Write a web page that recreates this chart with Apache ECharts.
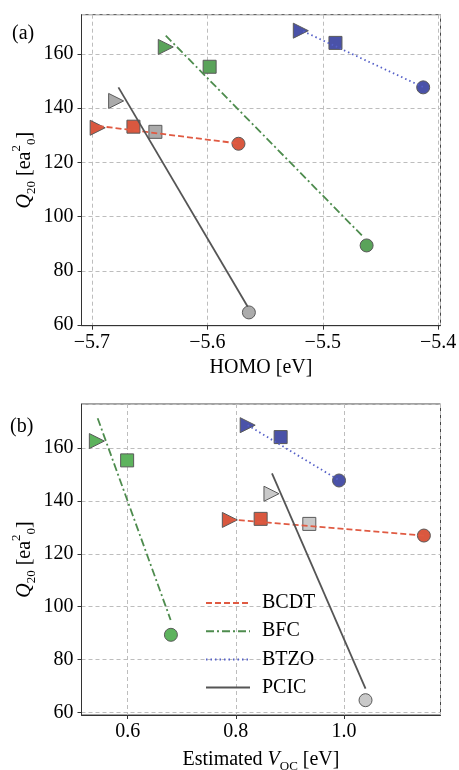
<!DOCTYPE html>
<html>
<head>
<meta charset="utf-8">
<script src="https://cdn.jsdelivr.net/npm/echarts@6/dist/echarts.min.js"></script>
<style>
  html, body { margin: 0; padding: 0; background: #fff; }
  #main { width: 459px; height: 770px; }
</style>
</head>
<body>
<div id="main"></div>
<script>
// compounds, and the three marker variants (triangle, square, circle)
var compounds = ['BCDT', 'BFC', 'BTZO', 'PCIC'];

// Q20 [ea0^2] for each compound (triangle, square, circle)
var q20BCDT = [132.8, 133.2, 126.9];
var q20BFC = [162.6, 155.3, 89.4];
var q20BTZO = [168.6, 164.1, 147.7];
var q20PCIC = [142.7, 131.3, 64.7];

// HOMO [eV]
var homoBCDT = [-5.695, -5.664, -5.573];
var homoBFC = [-5.636, -5.598, -5.462];
var homoBTZO = [-5.519, -5.489, -5.413];
var homoPCIC = [-5.679, -5.645, -5.564];

// estimated Voc [eV]
var vocBCDT = [0.789, 0.846, 1.148];
var vocBFC = [0.543, 0.599, 0.680];
var vocBTZO = [0.822, 0.883, 0.991];
var vocPCIC = [0.866, 0.936, 1.040];

// fit lines: [x, q20] at both ends
var fitHomoBCDT = [[-5.695, 133.5], [-5.573, 127.0]];
var fitHomoBFC = [[-5.636, 166.8], [-5.465, 92.6]];
var fitHomoBTZO = [[-5.517, 168.4], [-5.413, 147.8]];
var fitHomoPCIC = [[-5.677, 147.7], [-5.565, 66.8]];

var fitVocBCDT = [[0.789, 133.0], [1.148, 126.9]];
var fitVocBFC = [[0.5445, 171.2], [0.6795, 95.0]];
var fitVocBTZO = [[0.822, 168.6], [0.991, 147.8]];
var fitVocPCIC = [[0.867, 150.4], [1.040, 69.1]];

var FONT = 'Liberation Serif';
var markerShapes = ['triangle', 'rect', 'circle'];
var markerRotate = [-90, 0, 0];
var markerSize = [15, 13, 13];

var markerColor = {BCDT: '#d9583f', BFC: '#5aa35a', BTZO: '#4a52a8', PCIC: '#ababab'};
var markerColorB = {BCDT: '#d9583f', BFC: '#5db35d', BTZO: '#4a52a8', PCIC: '#c9c9c9'};
var lineColor = {BCDT: '#e05a42', BFC: '#4e8c4e', BTZO: '#5560c8', PCIC: '#555555'};
var lineType = {BCDT: [6, 3], BFC: [8, 3, 2, 3], BTZO: [1.5, 3], PCIC: 'solid'};

function pts(xs, ys) {
    return xs.map(function (x, i) {
        return {
            value: [x, ys[i]],
            symbol: markerShapes[i],
            symbolRotate: markerRotate[i],
            symbolSize: markerSize[i]
        };
    });
}

var panelData = [
    {BCDT: [homoBCDT, fitHomoBCDT], BFC: [homoBFC, fitHomoBFC], BTZO: [homoBTZO, fitHomoBTZO], PCIC: [homoPCIC, fitHomoPCIC]},
    {BCDT: [vocBCDT, fitVocBCDT], BFC: [vocBFC, fitVocBFC], BTZO: [vocBTZO, fitVocBTZO], PCIC: [vocPCIC, fitVocPCIC]}
];
var q20 = {BCDT: q20BCDT, BFC: q20BFC, BTZO: q20BTZO, PCIC: q20PCIC};

var series = [];
panelData.forEach(function (pd, p) {
    compounds.forEach(function (c) {
        series.push({
            name: c + ' points',
            type: 'scatter',
            xAxisIndex: p,
            yAxisIndex: p,
            z: 2,
            data: pts(pd[c][0], q20[c]),
            itemStyle: {
                color: p === 0 ? markerColor[c] : markerColorB[c],
                borderColor: '#5a5a5a',
                borderWidth: 1,
                opacity: 1
            }
        });
        series.push({
            name: c,
            type: 'line',
            xAxisIndex: p,
            yAxisIndex: p,
            z: 3,
            symbol: 'none',
            data: pd[c][1],
            lineStyle: {color: lineColor[c], width: 1.8, type: lineType[c]},
            itemStyle: {color: lineColor[c]}
        });
    });
});

var gridLine = {show: true, lineStyle: {color: '#bdbdbd', type: [4, 3], width: 1}};
var tick = {show: true, inside: false, length: 4, lineStyle: {color: '#333'}};
var axLine = {show: true, lineStyle: {color: '#333', width: 1}};
var yName = '{q|Q}{s|20} [ea{p|2}{s|0}]';
var yRich = {
    q: {fontFamily: FONT, fontSize: 20, fontStyle: 'italic', lineHeight: 28, verticalAlign: 'middle'},
    s: {fontFamily: FONT, fontSize: 13, verticalAlign: 'bottom', lineHeight: 24},
    p: {fontFamily: FONT, fontSize: 13, verticalAlign: 'top', lineHeight: 24}
};

function yAxis(idx, min, max) {
    return {
        type: 'value', gridIndex: idx, min: min, max: max, splitNumber: 5,
        name: yName, nameLocation: 'middle', nameGap: 43, nameRotate: 90, nameMoveOverlap: false,
        nameTextStyle: {fontFamily: FONT, fontSize: 20, color: '#000', rich: yRich},
        axisLine: axLine, axisTick: tick, splitLine: gridLine,
        axisLabel: {
            fontFamily: FONT, fontSize: 20, color: '#000', margin: 8,
            showMinLabel: false, showMaxLabel: false,
            formatter: function (v) {
                return Math.abs(v / 20 - Math.round(v / 20)) < 1e-6 ? String(Math.round(v)) : '';
            }
        }
    };
}

var option = {
    animation: false,
    backgroundColor: '#fff',
    grid: [
        {left: 81.5, top: 14.7, width: 359, height: 311, show: true, borderColor: '#444', borderWidth: 1,
            containLabel: false, outerBoundsMode: 'none'},
        {left: 81.5, top: 404, width: 359, height: 311, show: true, borderColor: '#444', borderWidth: 1,
            containLabel: false, outerBoundsMode: 'none'}
    ],
    xAxis: [
        {
            type: 'value', gridIndex: 0, min: -5.709, max: -5.398, splitNumber: 3,
            name: 'HOMO [eV]', nameLocation: 'middle', nameGap: 32,
            nameTextStyle: {fontFamily: FONT, fontSize: 20, color: '#000'},
            axisLine: axLine, axisTick: tick, splitLine: gridLine,
            axisLabel: {
                fontFamily: FONT, fontSize: 20, color: '#000', margin: 7,
                showMinLabel: false, showMaxLabel: false,
                formatter: function (v) {
                    var r = Math.round(v * 10);
                    return Math.abs(v * 10 - r) < 1e-6 ? '\u2212' + Math.abs(r / 10).toFixed(1) : '';
                }
            }
        },
        {
            type: 'value', gridIndex: 1, min: 0.5146, max: 1.1787, splitNumber: 3,
            name: 'Estimated {i|V}{s|OC} [eV]', nameLocation: 'middle', nameGap: 32,
            nameTextStyle: {
                fontFamily: FONT, fontSize: 20, color: '#000',
                rich: {
                    i: {fontFamily: FONT, fontSize: 20, fontStyle: 'italic', lineHeight: 26},
                    s: {fontFamily: FONT, fontSize: 13, verticalAlign: 'bottom', lineHeight: 22}
                }
            },
            axisLine: axLine, axisTick: tick, splitLine: gridLine,
            axisLabel: {
                fontFamily: FONT, fontSize: 20, color: '#000', margin: 7,
                showMinLabel: false, showMaxLabel: false,
                formatter: function (v) {
                    var r = Math.round(v * 5);
                    return Math.abs(v * 5 - r) < 1e-6 ? (r / 5).toFixed(1) : '';
                }
            }
        }
    ],
    yAxis: [yAxis(0, 59.8, 174.5), yAxis(1, 59.1, 176.6)],
    legend: {
        data: compounds,
        orient: 'vertical',
        left: 200,
        top: 588,
        itemWidth: 44,
        itemHeight: 14,
        itemGap: 8.2,
        itemStyle: {color: 'transparent', borderColor: 'transparent', borderWidth: 0},
        textStyle: {fontFamily: FONT, fontSize: 20, color: '#000', padding: [0, 0, 0, 7]}
    },
    graphic: [
        {type: 'text', left: 12, top: 24, style: {text: '(a)', font: '20px "Liberation Serif"', fill: '#000'}},
        {type: 'text', left: 10, top: 417, style: {text: '(b)', font: '20px "Liberation Serif"', fill: '#000'}}
    ],
    series: series
};

var chart = echarts.init(document.getElementById('main'));
chart.setOption(option);
</script>
</body>
</html>
